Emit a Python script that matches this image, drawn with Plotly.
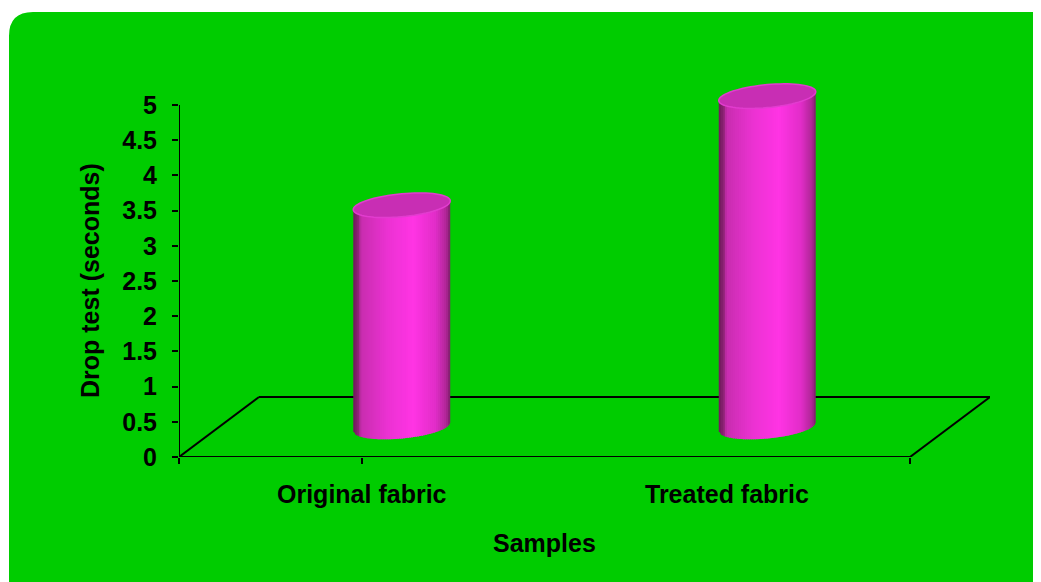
import plotly.graph_objects as go
import numpy as np

# ---- data ----
categories = ["Original fabric", "Treated fabric"]
drop_time = [3.15, 4.7]
y_ticks = [0, 0.5, 1, 1.5, 2, 2.5, 3, 3.5, 4, 4.5, 5]
y_ticktext = ["0", "0.5", "1", "1.5", "2", "2.5", "3", "3.5", "4", "4.5", "5"]
x_title = "Samples"
y_title = "Drop test (seconds)"

# ---- layout geometry (pixels, figure coords; page body adds 8px) ----
W, H = 1033, 574
AXIS_LEN = 352                    # pixel length of the 0..5 value axis
Y_MAX = 5
ML, MR, MT, MB = 171, 51, 52, 125
PW, PH = W - ML - MR, H - MT - MB
y_unit = AXIS_LEN / Y_MAX
Y_TOP = PH / y_unit
N = len(categories)
X0, X1 = -0.5, N - 0.5
DEPTH_PX_X, DEPTH_PX_Y = 80, 60
x_unit = (PW - DEPTH_PX_X) / (X1 - X0)
dx = DEPTH_PX_X / x_unit
dy = DEPTH_PX_Y / y_unit

GREEN = "#00cc00"
FONT = "Liberation Sans, Arial, sans-serif"
FS = 25

def px_to_paper(px, py):
    return (px - ML) / PW, (H - MB - py) / PH

def P(px, py):
    x, y = px_to_paper(px, py)
    return f"{x:.5f},{y:.5f}"

shapes = []

# green rounded background (paper coords)
r = 24
L, T, R, B = 1, 4, W + 20, H + 20
path = (f"M {P(L, B)} L {P(L, T + r)} Q {P(L, T)} {P(L + r, T)} "
        f"L {P(W - 8, T)} Q {P(W, T)} {P(W, T + 8)} L {P(R, B)} Z")
shapes.append(dict(type="path", path=path, xref="paper", yref="paper",
                   fillcolor=GREEN, line=dict(width=0), layer="below"))

# floor (3D base) and value axis line
blk = dict(color="black", width=2)
for (xa, ya, xb, yb) in [(X0, 0, X1, 0), (X0 + dx, dy, X1 + dx, dy),
                         (X0, 0, X0 + dx, dy), (X1, 0, X1 + dx, dy),
                         (X0, 0, X0, Y_MAX)]:
    shapes.append(dict(type="line", xref="x", yref="y", x0=xa, y0=ya, x1=xb, y1=yb,
                       line=blk, layer="below"))

# cylinders (pixel radii, slight tilt of the ellipses)
RXP, RYP, TILT = 48.5, 11.5, 0.09

def body_color(t):
    stops = [(0.0, (110, 25, 90)), (0.05, (140, 35, 115)), (0.08, (200, 45, 175)),
             (0.35, (235, 50, 210)), (0.62, (255, 52, 228)), (0.85, (225, 45, 200)),
             (0.96, (175, 38, 150)), (1.0, (120, 30, 100))]
    for i in range(len(stops) - 1):
        t0, c0 = stops[i]
        t1, c1 = stops[i + 1]
        if t0 <= t <= t1:
            f = (t - t0) / (t1 - t0) if t1 > t0 else 0
            c = [int(round(c0[k] + f * (c1[k] - c0[k]))) for k in range(3)]
            return f"rgb({c[0]},{c[1]},{c[2]})"
    return "rgb(120,30,100)"

def lower(xp):
    return xp * TILT - RYP * np.sqrt(max(0.0, 1 - (xp / RXP) ** 2))

NSTRIP = 48
ovp = 1.2
for i, v in enumerate(drop_time):
    cx = i + dx / 2
    base = dy / 2
    top = v + dy / 2
    edges = np.linspace(-RXP, RXP, NSTRIP + 1)
    for k in range(NSTRIP):
        xa, xb = edges[k], min(edges[k + 1] + ovp, RXP)
        ya = base + lower(xa) / y_unit
        yb = base + lower(xb) / y_unit
        ta = top + xa * TILT / y_unit
        tb = top + xb * TILT / y_unit
        col = body_color((k + 0.5) / NSTRIP)
        p = (f"M {cx + xa / x_unit:.5f},{ta:.5f} L {cx + xb / x_unit:.5f},{tb:.5f} "
             f"L {cx + xb / x_unit:.5f},{yb:.5f} L {cx + xa / x_unit:.5f},{ya:.5f} Z")
        shapes.append(dict(type="path", path=p, xref="x", yref="y",
                           fillcolor=col, line=dict(width=0), layer="above"))
    # top ellipse (sheared)
    tt = np.linspace(0, 2 * np.pi, 73)
    ex = RXP * np.cos(tt)
    ey = RYP * np.sin(tt) + ex * TILT
    pts = [f"{cx + a / x_unit:.5f},{top + b / y_unit:.5f}" for a, b in zip(ex, ey)]
    shapes.append(dict(type="path", path="M " + " L ".join(pts) + " Z",
                       xref="x", yref="y", fillcolor="#c82eb4",
                       line=dict(color="#e23ccf", width=1.5), layer="above"))

tfont = dict(family=FONT, size=FS, color="black", weight="bold")
annotations = []
for i, c in enumerate(categories):
    annotations.append(dict(x=i, y=0, xref="x", yref="y", text=c, showarrow=False,
                            yanchor="middle", yshift=-37, font=tfont))
annotations.append(dict(x=(X0 + X1) / 2, y=0, xref="x", yref="y", text=x_title,
                        showarrow=False, yanchor="middle", yshift=-86, font=tfont))
tx, _ = px_to_paper(82, 0)
annotations.append(dict(x=tx, y=Y_MAX / 2, xref="paper", yref="y", text=y_title,
                        showarrow=False, textangle=-90, xanchor="center", yanchor="middle",
                        font=tfont))

fig = go.Figure()
fig.add_trace(go.Scatter(x=[X0], y=[0], mode="markers", marker=dict(opacity=0),
                         hoverinfo="skip", showlegend=False))

fig.update_layout(
    width=W, height=H,
    margin=dict(l=ML, r=MR, t=MT, b=MB),
    paper_bgcolor="white", plot_bgcolor="rgba(0,0,0,0)",
    showlegend=False,
    shapes=shapes, annotations=annotations,
    xaxis=dict(range=[X0, X1 + dx], showgrid=False, zeroline=False, showline=False,
               tickvals=[X0 + 0.5 + j for j in range(N - 1)] + [X0, X1],
               ticktext=[""] * (N + 1), ticks="outside", ticklen=6, tickwidth=2,
               tickcolor="black", fixedrange=True),
    yaxis=dict(range=[0, Y_TOP], showgrid=False, zeroline=False, showline=False,
               tickvals=y_ticks, ticktext=y_ticktext,
               ticks="outside", ticklen=6, tickwidth=2, tickcolor="black",
               ticklabelstandoff=10, tickfont=tfont, fixedrange=True),
)

fig.write_html("out.html")
